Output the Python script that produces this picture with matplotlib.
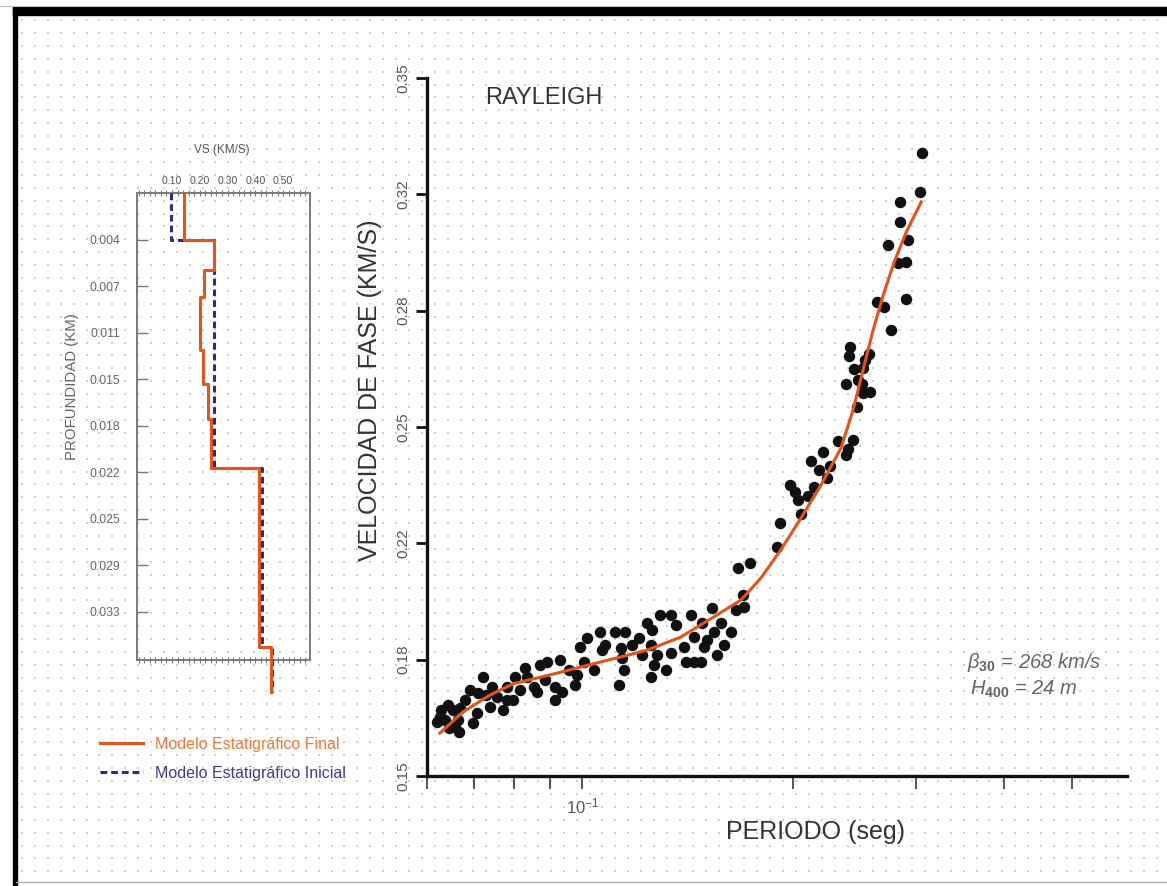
import numpy as np
import matplotlib
matplotlib.use('Agg')
from matplotlib import pyplot as plt
from matplotlib.ticker import FixedLocator, MultipleLocator, NullFormatter, FormatStrFormatter

plt.rcParams['font.family'] = ['Liberation Sans', 'DejaVu Sans']
plt.rcParams['mathtext.fontset'] = 'custom'
plt.rcParams['mathtext.rm'] = 'Liberation Sans'
plt.rcParams['mathtext.it'] = 'Liberation Sans:italic'
plt.rcParams['mathtext.bf'] = 'Liberation Sans:bold'

#=======================================================================================
# dispersion data (Rayleigh, phase velocity vs period)

periodo = [0.0629, 0.0626, 0.0636, 0.0654, 0.0669, 0.0658, 0.0667, 0.0665, 0.0699, 0.0707,
           0.0710, 0.0722, 0.0742, 0.0738, 0.0755, 0.0771, 0.0780, 0.0797, 0.0802, 0.0780,
           0.0829, 0.0833, 0.0852, 0.0861, 0.0890, 0.0885, 0.0915, 0.0915, 0.0935, 0.0956,
           0.0977, 0.0983, 0.1004, 0.0993, 0.1016, 0.1038, 0.1061, 0.1067, 0.1079, 0.1115,
           0.1152, 0.1127, 0.1134, 0.1140, 0.1146, 0.1204, 0.1218, 0.1238, 0.1252, 0.1259,
           0.1252, 0.1265, 0.1279, 0.1293, 0.1315, 0.1337, 0.1337, 0.1397, 0.1405, 0.1444,
           0.1476, 0.1428, 0.1444, 0.1484, 0.1509, 0.1492, 0.1534, 0.1542, 0.1560, 0.1577,
           0.1594, 0.1629, 0.1703,
           0.0620, 0.0643, 0.0645, 0.0680, 0.0691, 0.0729, 0.0815, 0.0871, 0.0930, 0.1179,
           0.1363, 0.1657, 0.2178, 0.2518,
           0.1668, 0.1735, 0.1695, 0.1896, 0.1915, 0.1980, 0.2013, 0.2032, 0.2053, 0.2101,
           0.2122, 0.2143, 0.2208, 0.2237, 0.2259, 0.2319, 0.2381, 0.2397, 0.2437, 0.2381,
           0.2413, 0.2445, 0.2405, 0.2477, 0.2510, 0.2535, 0.2568, 0.2577, 0.2469, 0.2518,
           0.2638, 0.2699, 0.2763, 0.2735, 0.2846, 0.2846, 0.2903, 0.2827, 0.2903, 0.2922,
           0.3040, 0.3060]
vel_fase = [0.1689, 0.1670, 0.1660, 0.1689, 0.1695, 0.1641, 0.1627, 0.1660, 0.1651, 0.1680,
            0.1737, 0.1785, 0.1756, 0.1699, 0.1727, 0.1689, 0.1718, 0.1718, 0.1785, 0.1756,
            0.1809, 0.1785, 0.1756, 0.1742, 0.1828, 0.1775, 0.1756, 0.1718, 0.1742, 0.1804,
            0.1761, 0.1789, 0.1828, 0.1870, 0.1895, 0.1804, 0.1913, 0.1861, 0.1875, 0.1913,
            0.1913, 0.1761, 0.1866, 0.1837, 0.1804, 0.1895, 0.1847, 0.1938, 0.1875, 0.1918,
            0.1785, 0.1818, 0.1847, 0.1961, 0.1804, 0.1961, 0.1852, 0.1870, 0.1828, 0.1828,
            0.1828, 0.1961, 0.1899, 0.1938, 0.1890, 0.1870, 0.1981, 0.1913, 0.1847, 0.1938,
            0.1875, 0.1913, 0.1985,
            0.1655, 0.1703, 0.1638, 0.1718, 0.1746, 0.1732, 0.1746, 0.1818, 0.1832, 0.1875,
            0.1933, 0.1976, 0.2377, 0.2669,
            0.2096, 0.2110, 0.2019, 0.2156, 0.2225, 0.2334, 0.2314, 0.2291, 0.2251, 0.2302,
            0.2403, 0.2328, 0.2428, 0.2354, 0.2388, 0.2460, 0.2420, 0.2437, 0.2463, 0.2623,
            0.2729, 0.2666, 0.2703, 0.2635, 0.2623, 0.2692, 0.2709, 0.2600, 0.2557, 0.2597,
            0.2858, 0.2844, 0.2778, 0.3021, 0.3087, 0.3145, 0.2973, 0.2970, 0.2867, 0.3036,
            0.3173, 0.3285]

# theoretical dispersion curve of the final model
per_curva = [0.0626, 0.0675, 0.0738, 0.0796, 0.0909, 0.0993, 0.1134, 0.1239, 0.1382, 0.1541,
             0.1685, 0.1799, 0.1921, 0.2053, 0.2193, 0.2342, 0.2437, 0.2518, 0.2603, 0.2691,
             0.2790, 0.2903, 0.3050]
vel_curva = [0.1623, 0.1683, 0.1732, 0.1764, 0.1792, 0.1812, 0.1841, 0.1861, 0.1898, 0.1956,
             0.2004, 0.2067, 0.2148, 0.2239, 0.2334, 0.2440, 0.2549, 0.2663, 0.2778, 0.2878,
             0.2973, 0.3059, 0.3145]

# shear velocity profiles (layer tops in km, Vs in km/s)
final_top = [0.0, 0.0037, 0.0060, 0.0081, 0.0123, 0.0149, 0.0177, 0.0215, 0.0355]
final_vs = [0.142, 0.250, 0.217, 0.202, 0.210, 0.228, 0.240, 0.413, 0.455]
inicial_top = [0.0, 0.0037, 0.0215, 0.0355]
inicial_vs = [0.096, 0.250, 0.425, 0.460]
base_perfil = 0.039

vs_ticks = [0.10, 0.20, 0.30, 0.40, 0.50]
prof_ticks = np.arange(1, 10) * 0.04 / 11
vel_ticks = np.linspace(0.15, 0.35, 7)
per_minor = [0.06, 0.07, 0.08, 0.09, 0.2, 0.3, 0.4, 0.5]

beta30 = 268
h400 = 24

#=======================================================================================

def perfil(tops, vs, base):
    bounds = np.append(tops, base)
    z = np.repeat(bounds, 2)[1:-1]
    v = np.repeat(vs, 2)
    return v, z

W, H = 1167, 886
fig = plt.figure(figsize=(W / 100, H / 100), dpi=100)
fig.patch.set_facecolor('white')

# dotted paper background and frame
bg = fig.add_axes([0, 0, 1, 1], zorder=-10)
bg.set_xlim(0, W)
bg.set_ylim(H, 0)
bg.axis('off')
gx, gy = np.meshgrid(np.arange(22, W, 12.9), np.arange(20, H - 6, 12.9))
bg.scatter(gx.ravel(), gy.ravel(), s=3, marker='s', color='#d0d0d0', linewidths=0)
bg.fill_between([13, W], 7, 15, color='black')
bg.fill_betweenx([7, H], 13, 16.5, color='black')
bg.plot([0, W], [6, 6], color='#bbbbbb', lw=0.8)
bg.plot([16, W], [882, 882], color='#aaaaaa', lw=1.0)

#---------------------------------------------------------------------------------------
# Vs profile panel
axl = fig.add_axes([137 / W, 1 - 660 / H, 173 / W, 467 / H])
axl.set_facecolor('none')
axl.set_xlim(-0.026, 0.597)
axl.set_ylim(0.0365, 0.0)

vf, zf = perfil(final_top, final_vs, base_perfil)
vi, zi = perfil(inicial_top, inicial_vs, base_perfil)
axl.plot(vi, zi, color='#2b2b86', lw=2.2, linestyle=(0, (2.2, 1.3)), clip_on=False,
         zorder=3, label='Modelo Estatigráfico Inicial')
axl.plot(vf, zf, color='#e5541c', lw=2.2, clip_on=False, zorder=4,
         label='Modelo Estatigráfico Final')

for s in axl.spines.values():
    s.set_color('#7a7a7a')
    s.set_linewidth(1.4)
axl.xaxis.tick_top()
axl.set_xticks(vs_ticks)
axl.xaxis.set_major_formatter(FormatStrFormatter('%.2f'))
axl.xaxis.set_minor_locator(MultipleLocator(0.02))
axl.tick_params(axis='x', which='both', top=True, bottom=True, labelbottom=False,
                direction='inout', length=4, width=0.8, color='#777777',
                labelsize=7.6, labelcolor='#555555', pad=3)
axl.set_yticks(prof_ticks)
axl.yaxis.set_major_formatter(FormatStrFormatter('%.3f'))
axl.tick_params(axis='y', direction='in', length=8, width=1.0, color='#777777',
                labelsize=8.8, labelcolor='#666666', pad=12)

fig.text(222 / W, 1 - 150 / H, 'VS (KM/S)', fontsize=8.5, color='#555555',
         ha='center', va='center')
fig.text(72 / W, 1 - 387 / H, 'PROFUNDIDAD (KM)', fontsize=10.8, color='#666666',
         rotation=90, ha='center', va='center')

handles, labels = axl.get_legend_handles_labels()
leg = fig.legend(handles[::-1], labels[::-1], loc='upper left',
                 bbox_to_anchor=(100 / W, 1 - 737 / H), bbox_transform=fig.transFigure,
                 frameon=False, fontsize=11.5, handlelength=2.7, handletextpad=0.75,
                 borderpad=0, borderaxespad=0, labelspacing=0.85)
for txt, col in zip(leg.get_texts(), ['#ea7a40', '#3c3c96']):
    txt.set_color(col)

#---------------------------------------------------------------------------------------
# dispersion panel
ax = fig.add_axes([427 / W, 1 - 776 / H, 700 / W, 698 / H])
ax.set_facecolor('none')
ax.set_xscale('log')
ax.set_xlim(0.06, 0.6)
ax.set_ylim(0.15, 0.35)

ax.scatter(periodo, vel_fase, s=68, color='#111111', linewidths=0, zorder=3, clip_on=False)
ax.plot(per_curva, vel_curva, color='#e2531e', lw=2.2, zorder=4)

ax.spines[['top', 'right']].set_visible(False)
for s in ['left', 'bottom']:
    ax.spines[s].set_linewidth(2.4)
    ax.spines[s].set_color('#111111')

ax.set_yticks(vel_ticks)
ax.yaxis.set_major_formatter(FormatStrFormatter('%.2f'))
ax.tick_params(axis='y', length=8, width=2, color='#111111', labelsize=11,
               labelcolor='#555555', labelrotation=90, pad=4)
for lab in ax.get_yticklabels():
    lab.set_va('center')

ax.xaxis.set_major_locator(FixedLocator([0.1]))
ax.xaxis.set_minor_locator(FixedLocator(per_minor))
ax.xaxis.set_minor_formatter(NullFormatter())
ax.tick_params(axis='x', which='both', length=9, width=1.4, color='#555555',
               labelsize=12, labelcolor='#555555', pad=6)

ax.text(0.083, 0.971, 'RAYLEIGH', transform=ax.transAxes, fontsize=17,
        color='#333333', va='center', ha='left')
ax.text(0.771, 0.155, r'$\beta_{\mathbf{30}}$ = %d km/s' % beta30, transform=ax.transAxes,
        fontsize=14.5, style='italic', color='#666666', va='baseline')
ax.text(0.776, 0.116, r'$H_{\mathbf{400}}$ = %d m' % h400, transform=ax.transAxes,
        fontsize=14.5, style='italic', color='#666666', va='baseline')

fig.text(816 / W, 1 - 832 / H, 'PERIODO (seg)', fontsize=18, color='#333333',
         ha='center', va='center')
fig.text(370 / W, 1 - 390 / H, 'VELOCIDAD DE FASE (KM/S)', fontsize=18, color='#333333',
         rotation=90, ha='center', va='center')

fig.savefig('out.png', dpi=100)
